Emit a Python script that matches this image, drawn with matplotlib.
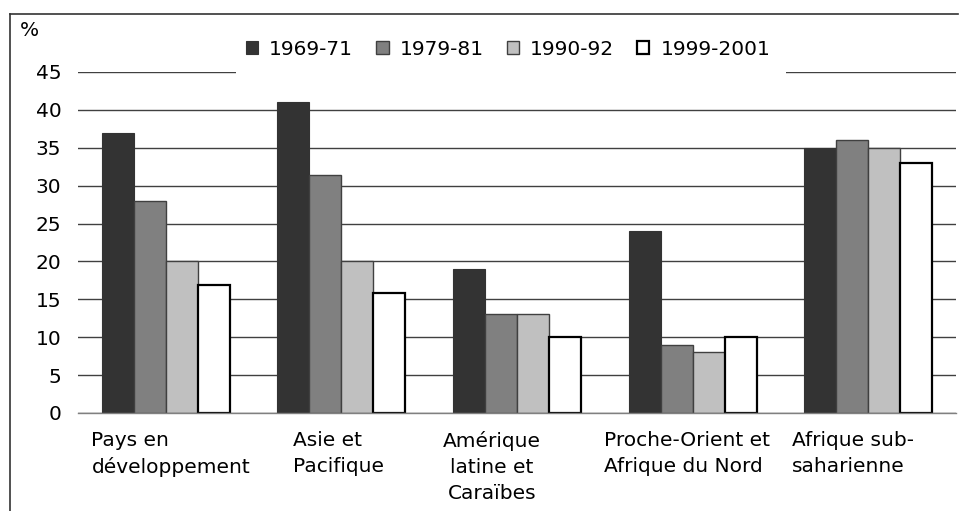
import matplotlib
matplotlib.use("Agg")
import matplotlib.pyplot as plt
import matplotlib.transforms as mtransforms
from matplotlib.lines import Line2D
from matplotlib.patches import Rectangle
import numpy as np

plt.rcParams['font.family'] = ['DejaVu Sans']

categories = ["Pays en\ndéveloppement", "Asie et\nPacifique", "Amérique\nlatine et\nCaraïbes",
              "Proche-Orient et\nAfrique du Nord", "Afrique sub-\nsaharienne"]
series_names = ["1969-71", "1979-81", "1990-92", "1999-2001"]
v1969 = [37, 41, 19, 24, 35]
v1979 = [28, 31.4, 13, 9, 36]
v1990 = [20, 20, 13, 8, 35]
v1999 = [16.9, 15.9, 10, 10, 33]
values = [v1969, v1979, v1990, v1999]
face_colors = ["#333333", "#808080", "#c0c0c0", "#ffffff"]
edge_colors = ["#333333", "#404040", "#404040", "#000000"]
edge_widths = [0.8, 1.0, 1.0, 1.6]
yticks = [0, 5, 10, 15, 20, 25, 30, 35, 40, 45]

FS = 14.5
fig = plt.figure(figsize=(9.59, 5.11), dpi=100)
ax = fig.add_axes([0.0813, 0.1918, 0.9157, 0.6673])

x = np.arange(len(categories))
w = 0.182
for i, (name, vals) in enumerate(zip(series_names, values)):
    ax.bar(x + (i - 1.5) * w, vals, width=w, color=face_colors[i],
           edgecolor=edge_colors[i], linewidth=edge_widths[i], label=name, zorder=3)

ax.set_xlim(-0.5, len(categories) - 0.5)
ax.set_ylim(0, 45)
ax.set_yticks(yticks)
ax.set_yticklabels([str(t) for t in yticks], fontsize=FS)
ax.yaxis.grid(True, color="#404040", linewidth=1.0, zorder=0)
ax.set_axisbelow(True)
for s in ["top", "right", "left"]:
    ax.spines[s].set_visible(False)
ax.spines["bottom"].set_color("#808080")
ax.spines["bottom"].set_linewidth(1.0)
ax.spines["bottom"].set_zorder(4)
ax.tick_params(axis="y", length=0, pad=12, colors="#000000")
ax.tick_params(axis="x", length=0, pad=13)

ax.set_xticks(x)
ax.set_xticklabels(categories, fontsize=FS, linespacing=1.45)
aligns = ["left", "left", "center", "left", "left"]
offsets = [5, -3, -25, -6, -15]
for lab, al, off in zip(ax.get_xticklabels(), aligns, offsets):
    lab.set_multialignment(al)
    lab.set_transform(lab.get_transform() + mtransforms.ScaledTranslation(off / 100, 0, fig.dpi_scale_trans))

fig.text(20 / 959, 1 - 30 / 511, "%", fontsize=FS, ha="left", va="center")

# white legend area hiding the top gridline behind the legend
ax.add_patch(Rectangle((236 / 959, 1 - 82 / 511), (786 - 236) / 959, 50 / 511,
                       transform=fig.transFigure, facecolor="white", edgecolor="none",
                       clip_on=False, zorder=2))

leg = ax.legend(loc="center", bbox_to_anchor=(0.49, 1.067), ncol=4, frameon=False,
                fontsize=FS, handlelength=0.6, handleheight=0.6, handletextpad=0.55,
                columnspacing=1.15, borderpad=0.3)
leg.set_zorder(5)

# figure border
fig.add_artist(Line2D([10 / 959, 10 / 959], [0, 1 - 14 / 511], color="#333333", linewidth=1.2,
                      transform=fig.transFigure))
fig.add_artist(Line2D([10 / 959, 958 / 959], [1 - 14 / 511, 1 - 14 / 511], color="#333333",
                      linewidth=1.2, transform=fig.transFigure))

fig.savefig("out.png", dpi=100)
